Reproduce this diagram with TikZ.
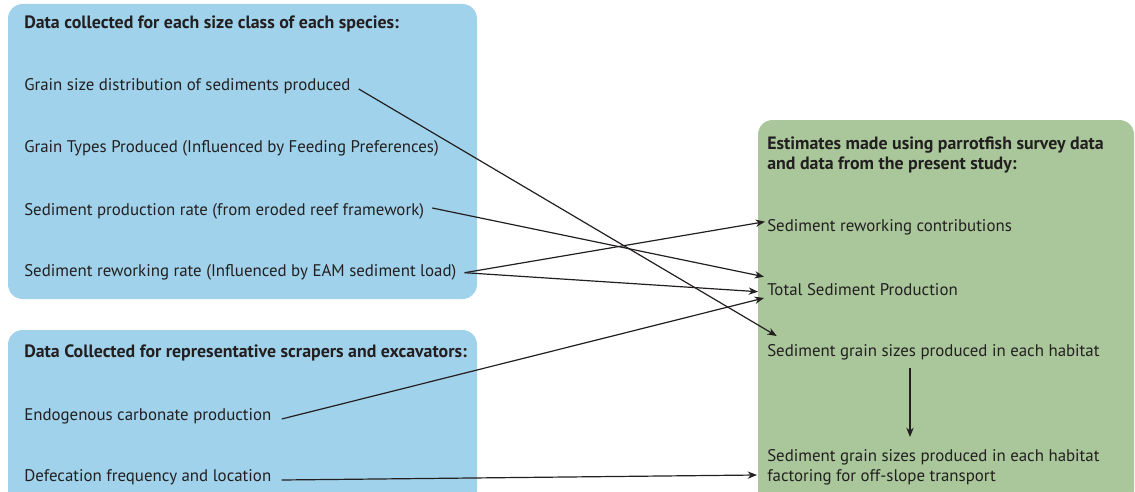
\documentclass[tikz,border=0pt]{standalone}
\usepackage{fontspec}
\setmainfont{PT Sans}
\usetikzlibrary{arrows.meta}
\definecolor{boxblue}{HTML}{A0D3EB}
\definecolor{boxgreen}{HTML}{A9C79B}
\definecolor{ink}{HTML}{231F20}
\tikzset{>={Stealth[length=7pt,width=5.5pt]}}
\tikzset{
  item/.style={anchor=base west, inner sep=0pt, text=ink, font=\fontsize{12.65}{15}\selectfont},
  head/.style={item, font=\fontsize{13.4}{15}\selectfont\bfseries},
  link/.style={->, line width=0.9pt, draw=ink}
}

\begin{document}
\begin{tikzpicture}[x=0.75pt, y=-0.75pt]
    \useasboundingbox (0,0) rectangle (1135,492);
    \clip (0,0) rectangle (1135,492);
    % panels
    \fill[boxblue, rounded corners=11pt](8,4) rectangle (477,299);
    \fill[boxblue, rounded corners=11pt](8,330) rectangle (477,505);
    \fill[boxgreen, rounded corners=11pt](758,120) rectangle (1134,505);
    % species data
    \node[head](hspec) at (24,28.3){Data collected for each size class of each species:};
    \node[item](gsd) at (24,90.5){Grain size distribution of sediments produced};
    \node[item](gtp) at (24,152.7){Grain Types Produced (Influenced by Feeding Preferences)};
    \node[item](spr) at (24,215){Sediment production rate (from eroded reef framework)};
    \node[item](srr) at (24,276.7){Sediment reworking rate (Influenced by EAM sediment load)};
    % scrapers and excavators
    \node[head](hrep) at (24,357.3){Data Collected for representative scrapers and excavators:};
    \node[item](ecp) at (24,420){Endogenous carbonate production};
    \node[item](dfl) at (24,481.7){Defecation frequency and location};
    % estimates (base = last line)
    \node[head, align=left](hest) at (767,169.3){Estimates made using parrotfish survey data\\and data from the present study:};
    \node[item](src) at (767,231.7){Sediment reworking contributions};
    \node[item](tsp) at (767,295){Total Sediment Production};
    \node[item](sgs) at (767,356.7){Sediment grain sizes produced in each habitat};
    \node[item, align=left](off) at (767,481.7){Sediment grain sizes produced in each habitat\\factoring for off-slope transport};
    % links
    \draw[link]([shift={(8,-1.5)}]gsd.base east)--([shift={(9.7,-20.7)}]sgs.base west);
    \draw[link]([shift={(8,-7)}]spr.base east)--([shift={(-3,-18.3)}]tsp.base west);
    \draw[link]([shift={(8,-4)}]srr.base east)--([shift={(-2,-10)}]src.base west);
    \draw[link]([shift={(8,-4)}]srr.base east)--([shift={(-9,-3.3)}]tsp.base west);
    \draw[link]([shift={(10,-1)}]ecp.base east)--([shift={(-3,3)}]tsp.base west);
    \draw[link]([shift={(10,-1.7)}]dfl.base east)--([shift={(-10,-6.7)}]off.base west);
    \draw[link]([shift={(143,11)}]sgs.base west)--([shift={(143,-44.7)}]off.base west);
\end{tikzpicture}
\end{document}
